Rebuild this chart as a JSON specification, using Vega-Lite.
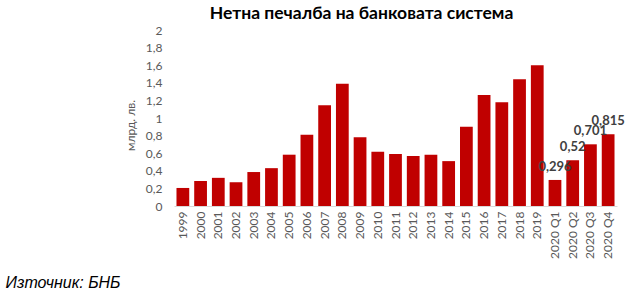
{
  "$schema": "https://vega.github.io/schema/vega-lite/v6.json",
  "width": 443,
  "height": 176,
  "autosize": {"type": "none"},
  "padding": {"left": 174, "top": 30, "right": 17, "bottom": 95},
  "background": "white",
  "title": {
    "text": "Нетна печалба на банковата система",
    "font": "Lato",
    "fontSize": 17.5,
    "fontWeight": "bold",
    "color": "#000000",
    "anchor": "middle",
    "dx": -34,
    "offset": 2
  },
  "data": {
    "values": [
      {"period": "1999", "value": 0.205},
      {"period": "2000", "value": 0.284},
      {"period": "2001", "value": 0.32},
      {"period": "2002", "value": 0.27},
      {"period": "2003", "value": 0.386},
      {"period": "2004", "value": 0.43},
      {"period": "2005", "value": 0.583},
      {"period": "2006", "value": 0.81},
      {"period": "2007", "value": 1.144},
      {"period": "2008", "value": 1.39},
      {"period": "2009", "value": 0.78},
      {"period": "2010", "value": 0.617},
      {"period": "2011", "value": 0.59},
      {"period": "2012", "value": 0.568},
      {"period": "2013", "value": 0.583},
      {"period": "2014", "value": 0.51},
      {"period": "2015", "value": 0.9},
      {"period": "2016", "value": 1.26},
      {"period": "2017", "value": 1.18},
      {"period": "2018", "value": 1.44},
      {"period": "2019", "value": 1.6},
      {"period": "2020 Q1", "value": 0.296},
      {"period": "2020 Q2", "value": 0.52},
      {"period": "2020 Q3", "value": 0.701},
      {"period": "2020 Q4", "value": 0.815}
    ]
  },
  "encoding": {
    "x": {
      "field": "period",
      "type": "nominal",
      "sort": null,
      "scale": {"paddingInner": 0.28, "paddingOuter": 0.14},
      "axis": {
        "title": "Източник: БНБ",
        "titleFont": "Liberation Sans",
        "titleFontStyle": "italic",
        "titleFontWeight": "normal",
        "titleFontSize": 16,
        "titleColor": "#000000",
        "titleX": -169,
        "titleY": 81,
        "titleAlign": "left",
        "titleBaseline": "alphabetic",
        "titleAngle": 0,
        "labelAngle": -90,
        "labelAlign": "right",
        "labelBaseline": "middle",
        "labelFont": "Lato",
        "labelFontSize": 12,
        "labelColor": "#595959",
        "labelPadding": 5,
        "ticks": false,
        "domainColor": "#d9d9d9",
        "grid": false
      }
    },
    "y": {
      "field": "value",
      "type": "quantitative",
      "scale": {"domain": [0, 2], "nice": false},
      "axis": {
        "title": "млрд. лв.",
        "titleFont": "Lato",
        "titleFontWeight": "normal",
        "titleFontSize": 12,
        "titleColor": "#595959",
        "titlePadding": 8,
        "titleY": 95,
        "values": [0, 0.2, 0.4, 0.6, 0.8, 1, 1.2, 1.4, 1.6, 1.8, 2],
        "format": ".1~f",
        "labelFont": "Lato",
        "labelFontSize": 12,
        "labelColor": "#595959",
        "labelPadding": 12,
        "ticks": false,
        "domain": false,
        "grid": false
      }
    }
  },
  "layer": [
    {"mark": {"type": "bar", "color": "#c00000"}},
    {
      "transform": [{"filter": "indexof(datum.period, '2020') >= 0"}],
      "mark": {
        "type": "text",
        "baseline": "bottom",
        "dy": -6,
        "font": "Lato",
        "fontSize": 13,
        "fontWeight": "bold",
        "color": "#404040"
      },
      "encoding": {
        "text": {"field": "value", "type": "quantitative", "format": ".3~f"}
      }
    }
  ],
  "config": {
    "view": {"stroke": null},
    "locale": {
      "number": {"decimal": ",", "thousands": " ", "grouping": [3], "currency": ["", ""]}
    }
  }
}
